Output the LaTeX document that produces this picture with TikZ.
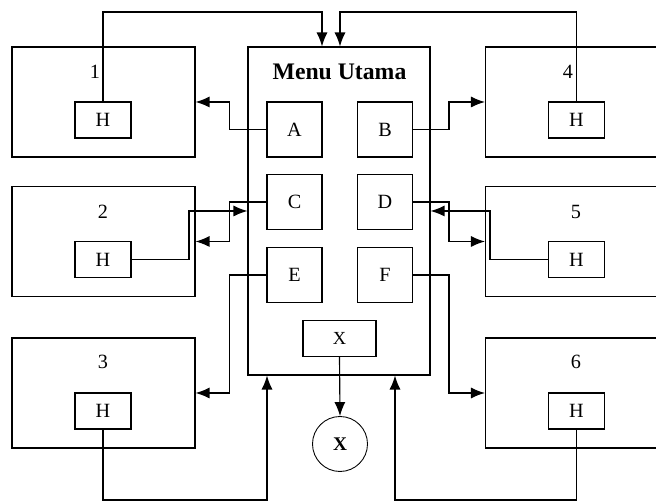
\documentclass[tikz,border=0pt]{standalone}
\usepackage{fontspec}
\setmainfont{Liberation Serif}
\usetikzlibrary{arrows.meta}
\tikzset{
	panel/.style={draw, line width=0.65pt, minimum width=3.66cm, minimum height=2.2cm, inner sep=0pt},
	hkey/.style={draw, line width=0.65pt, minimum width=1.12cm, minimum height=0.72cm, inner sep=0pt},
	menukey/.style={draw, line width=0.65pt, minimum width=1.1cm, minimum height=1.1cm, inner sep=0pt},
	link/.style={line width=0.65pt, -{Latex[length=2.8mm, width=2.2mm]}}
}
\begin{document}
\begin{tikzpicture}[x=0.02cm, y=-0.02cm, font=\fontsize{11.5}{13}\selectfont]
		
		\useasboundingbox (0,0) rectangle (656,502);
		
		%Main menu
		\node[draw, line width=0.65pt, minimum width=3.64cm, minimum height=6.56cm] (menu) at (339,211) {};
		\node[font=\fontsize{13.5}{15}\selectfont\bfseries] (menutitle) at (339.5,72) {Menu Utama};
		\node[menukey] (A) at (294.5,129.5) {A};
		\node[menukey] (B) at (385,129.5) {B};
		\node[menukey] (C) at (294.5,202) {C};
		\node[menukey] (D) at (385,202) {D};
		\node[menukey] (E) at (294.5,275) {E};
		\node[menukey] (F) at (385,275) {F};
		\node[draw, line width=0.65pt, minimum width=1.46cm, minimum height=0.72cm, inner sep=0pt, font=\fontsize{10.5}{12}\selectfont] (Xkey) at (339.5,338.5) {X};
		\node[draw, circle, line width=0.5pt, minimum size=1.1cm, inner sep=0pt, font=\fontsize{11}{13}\selectfont\bfseries] (Xexit) at (340,444) {X};
		
		%Left sub menus
		\node[panel] (box1) at (103.5,102) {};
		\node[panel] (box2) at (103.5,241.5) {};
		\node[panel] (box3) at (103.5,393) {};
		\node (lbl1) at (95,72) {1};
		\node (lbl2) at (103,212) {2};
		\node (lbl3) at (103,362) {3};
		\node[hkey] (h1) at (103,120) {H};
		\node[hkey] (h2) at (103,259.5) {H};
		\node[hkey] (h3) at (103,411) {H};
		
		%Right sub menus
		\node[panel] (box4) at (577,102) {};
		\node[panel] (box5) at (577,241.5) {};
		\node[panel] (box6) at (577,393) {};
		\node (lbl4) at (568,72) {4};
		\node (lbl5) at (576,212) {5};
		\node (lbl6) at (576,362) {6};
		\node[hkey] (h4) at (576.5,120) {H};
		\node[hkey] (h5) at (576.5,259.5) {H};
		\node[hkey] (h6) at (576.5,411) {H};
		
		%Menu to sub menus
		\draw[link] (A.west) -- ++(-37,0) |- (box1.east);
		\draw[link] (C.west) -- ++(-37,0) |- (box2.east);
		\draw[link] (E.west) -- ++(-37,0) |- (box3.east);
		\draw[link] (B.east) -- ++(36,0) |- (box4.west);
		\draw[link] (D.east) -- ++(36,0) |- (box5.west);
		\draw[link] (F.east) -- ++(36,0) |- (box6.west);
		\draw[link] (Xkey.south) -- (Xexit.north);
		
		%Home back to menu
		\coordinate (back1) at (322,12);
		\coordinate (back4) at (340,12);
		\coordinate (back3) at (267,500);
		\coordinate (back6) at (395,500);
		\draw[link] (h1.north) |- (back1) -- (back1 |- menu.north);
		\draw[link] (h4.north) |- (back4) -- (back4 |- menu.north);
		\draw[link] (h3.south) |- (back3) -- (back3 |- menu.south);
		\draw[link] (h6.south) |- (back6) -- (back6 |- menu.south);
		\draw[link] (h2.east) -| (189,211) -- (menu.west);
		\draw[link] (h5.west) -| (490,211) -- (menu.east);
		
		\end{tikzpicture}
\end{document}
